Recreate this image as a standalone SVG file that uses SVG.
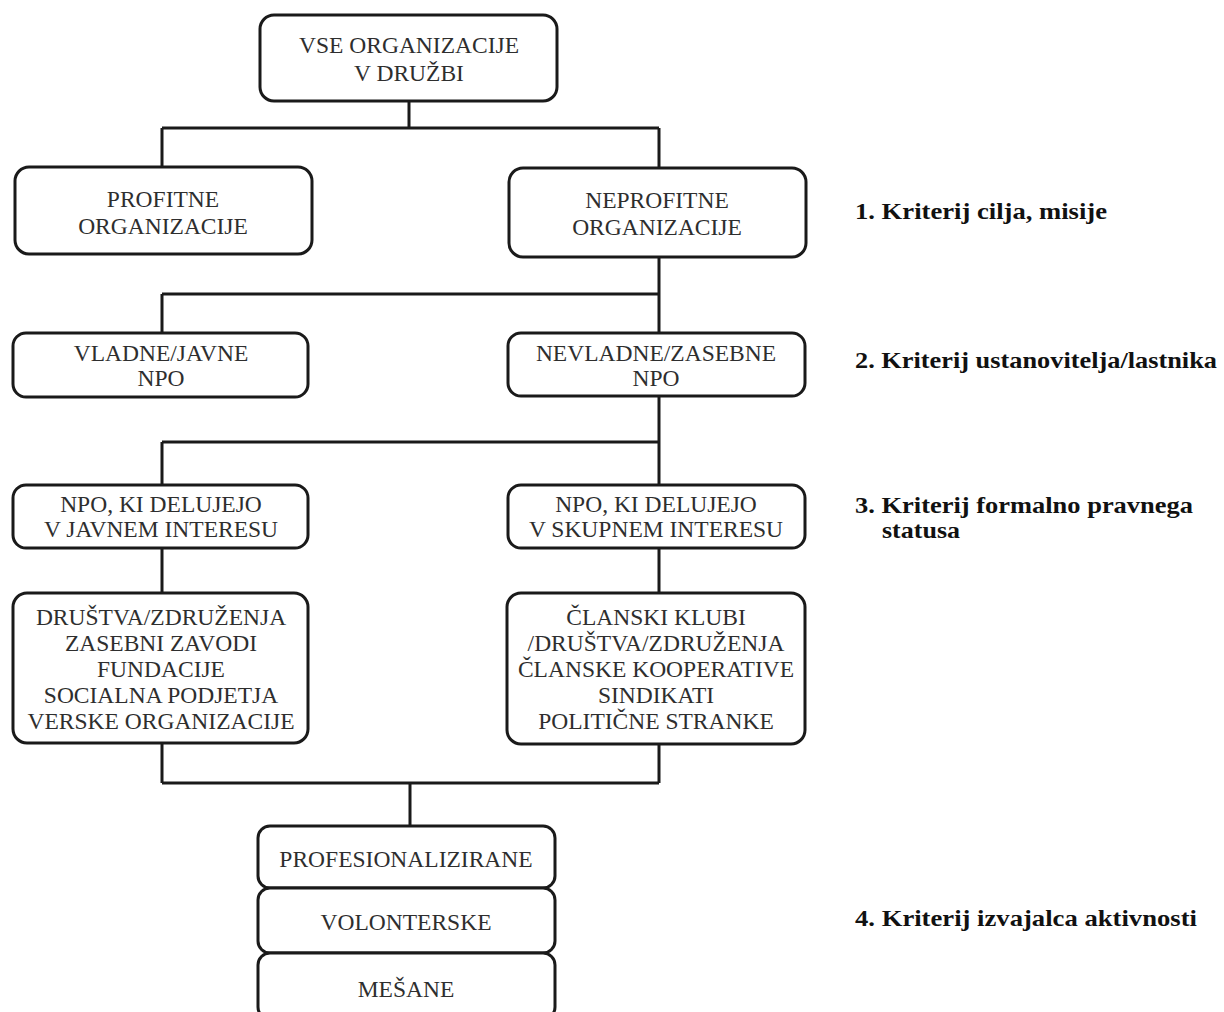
<svg xmlns="http://www.w3.org/2000/svg" width="1224" height="1012" viewBox="0 0 1224 1012">
<style>
.box{fill:#fff;stroke:#1a1a1a;stroke-width:3}
.t{font-family:"Liberation Serif","Times New Roman",serif;font-size:23.5px;fill:#2e2e2e;text-anchor:middle}
.k{font-family:"Liberation Serif","Times New Roman",serif;font-size:22.5px;font-weight:bold;fill:#111}
.c{fill:none;stroke:#1a1a1a;stroke-width:3}
</style>
<rect width="1224" height="1012" fill="#fff"/>
<g id="connectors">
<path class="c" d="M409,101 V128 M162,128 H659 M162,128 V167 M659,128 V168"/>
<path class="c" d="M659,257 V294 M162,294 H659 M162,294 V333 M659,294 V333"/>
<path class="c" d="M659,396 V442 M162,442 H659 M162,442 V485 M659,442 V485"/>
<path class="c" d="M162,548 V593 M659,548 V593"/>
<path class="c" d="M162,743 V783 M659,744 V783 M162,783 H659 M410,783 V826"/>
</g>
<g id="n-vse"><rect class="box" x="260" y="15" width="297" height="86" rx="14"/><text class="t" x="409" y="53">VSE ORGANIZACIJE</text><text class="t" x="409" y="81">V DRUŽBI</text></g>
<g id="n-profitne"><rect class="box" x="15" y="167" width="297" height="87" rx="14"/><text class="t" x="163" y="207">PROFITNE</text><text class="t" x="163" y="234">ORGANIZACIJE</text></g>
<g id="n-neprofitne"><rect class="box" x="509" y="168" width="297" height="89" rx="14"/><text class="t" x="657" y="208">NEPROFITNE</text><text class="t" x="657" y="235">ORGANIZACIJE</text></g>
<g id="n-vladne"><rect class="box" x="13" y="333" width="295" height="64" rx="13"/><text class="t" x="161" y="361">VLADNE/JAVNE</text><text class="t" x="161" y="386">NPO</text></g>
<g id="n-nevladne"><rect class="box" x="508" y="333" width="297" height="63" rx="13"/><text class="t" x="656" y="361">NEVLADNE/ZASEBNE</text><text class="t" x="656" y="386">NPO</text></g>
<g id="n-javni"><rect class="box" x="13" y="485" width="295" height="63" rx="13"/><text class="t" x="161" y="512">NPO, KI DELUJEJO</text><text class="t" x="161" y="537">V JAVNEM INTERESU</text></g>
<g id="n-skupni"><rect class="box" x="508" y="485" width="297" height="63" rx="13"/><text class="t" x="656" y="512">NPO, KI DELUJEJO</text><text class="t" x="656" y="537">V SKUPNEM INTERESU</text></g>
<g id="n-drustva"><rect class="box" x="13" y="593" width="295" height="150" rx="14"/>
<text class="t" x="161" y="625">DRUŠTVA/ZDRUŽENJA</text><text class="t" x="161" y="651">ZASEBNI ZAVODI</text><text class="t" x="161" y="677">FUNDACIJE</text><text class="t" x="161" y="703">SOCIALNA PODJETJA</text><text class="t" x="161" y="729">VERSKE ORGANIZACIJE</text></g>
<g id="n-clanski"><rect class="box" x="507" y="593" width="298" height="151" rx="14"/>
<text class="t" x="656" y="625">ČLANSKI KLUBI</text><text class="t" x="656" y="651">/DRUŠTVA/ZDRUŽENJA</text><text class="t" x="656" y="677">ČLANSKE KOOPERATIVE</text><text class="t" x="656" y="703">SINDIKATI</text><text class="t" x="656" y="729">POLITIČNE STRANKE</text></g>
<g id="n-prof"><rect class="box" x="258" y="826" width="297" height="62" rx="12"/><text class="t" x="406" y="867">PROFESIONALIZIRANE</text></g>
<g id="n-vol"><rect class="box" x="258" y="888" width="297" height="65" rx="12"/><text class="t" x="406" y="930">VOLONTERSKE</text></g>
<g id="n-mes"><rect class="box" x="258" y="953" width="297" height="66" rx="12"/><text class="t" x="406" y="997">MEŠANE</text></g>
<g id="labels">
<text class="k" x="855" y="219" textLength="252" lengthAdjust="spacingAndGlyphs">1. Kriterij cilja, misije</text>
<text class="k" x="855" y="368" textLength="362" lengthAdjust="spacingAndGlyphs">2. Kriterij ustanovitelja/lastnika</text>
<text class="k" x="855" y="513" textLength="338" lengthAdjust="spacingAndGlyphs">3. Kriterij formalno pravnega</text>
<text class="k" x="882" y="538" textLength="78" lengthAdjust="spacingAndGlyphs">statusa</text>
<text class="k" x="855" y="926" textLength="342" lengthAdjust="spacingAndGlyphs">4. Kriterij izvajalca aktivnosti</text>
</g>
</svg>
